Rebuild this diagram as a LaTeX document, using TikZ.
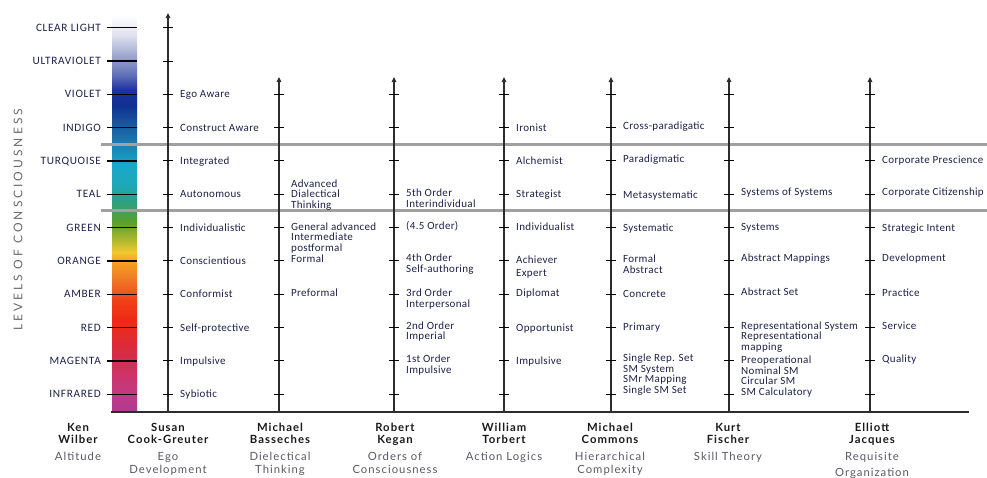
\documentclass[tikz,border=0pt]{standalone}
\usepackage{fontspec}
\usetikzlibrary{arrows.meta}
\setmainfont{Carlito}
\newfontfamily\lblfont[LetterSpace=3]{Carlito}
\newfontfamily\lvlfont[LetterSpace=6]{Carlito}
\newfontfamily\hdrfont[LetterSpace=9]{Lato}
\newfontfamily\subfont[LetterSpace=9]{Lato}
\newfontfamily\vertfont[LetterSpace=25]{Lato}
\definecolor{navy}{RGB}{30,32,72}
\definecolor{subgray}{RGB}{90,88,98}
\definecolor{sepgray}{RGB}{160,160,160}
\definecolor{axisgray}{RGB}{45,45,45}
\definecolor{vgray}{RGB}{105,105,112}
\definecolor{c0}{HTML}{B03C96}
\definecolor{c1}{HTML}{C83878}
\definecolor{c2}{HTML}{D42C48}
\definecolor{c3}{HTML}{EE2A14}
\definecolor{c4}{HTML}{F04018}
\definecolor{c5}{HTML}{F07828}
\definecolor{c6}{HTML}{F5A020}
\definecolor{c7}{HTML}{F0C830}
\definecolor{c8}{HTML}{B0B830}
\definecolor{c9}{HTML}{5AA028}
\definecolor{c10}{HTML}{40A060}
\definecolor{c11}{HTML}{2AA088}
\definecolor{c12}{HTML}{20A8B8}
\definecolor{c13}{HTML}{18A8C8}
\definecolor{c14}{HTML}{1C80B0}
\definecolor{c15}{HTML}{1A58A0}
\definecolor{c16}{HTML}{103090}
\definecolor{c17}{HTML}{2030A0}
\definecolor{c18}{HTML}{6070B8}
\definecolor{c19}{HTML}{A0A8D0}
\definecolor{c20}{HTML}{E0E2F0}
\definecolor{c21}{HTML}{FFFFFF}
\pgfdeclareverticalshading{spectrum}{100bp}{color(0bp)=(c0); color(25bp)=(c0); color(28.40bp)=(c1); color(32.18bp)=(c2); color(36.59bp)=(c3); color(39.11bp)=(c4); color(41.62bp)=(c5); color(43.89bp)=(c6); color(45.15bp)=(c7); color(46.66bp)=(c8); color(48.93bp)=(c9); color(50.44bp)=(c10); color(51.70bp)=(c11); color(53.59bp)=(c12); color(56.11bp)=(c13); color(58.63bp)=(c14); color(61.15bp)=(c15); color(63.66bp)=(c16); color(65.55bp)=(c17); color(67.44bp)=(c18); color(69.96bp)=(c19); color(72.48bp)=(c20); color(75bp)=(c21); color(100bp)=(c21)}
\newcommand\LY[1]{394.3-33.33*(#1)}
% baseline of the text on level #1
\newcommand\TY[1]{397.9-33.33*(#1)}
% baseline of the LAST line of a label of #1 extra lines whose FIRST line sits on level #2
\newcommand\TYn[2]{397.9-33.33*(#2)+10.7*(#1)}
\begin{document}
\begin{tikzpicture}[x=1pt,y=-1pt,
  lab/.style={anchor=base west,inner sep=0pt,align=left,text=navy,
    font=\lblfont\fontsize{11}{10.7}\selectfont},
  lvl/.style={anchor=base east,inner sep=0pt,text=navy,
    font=\lvlfont\fontsize{11.3}{11}\selectfont},
  who/.style={anchor=base,inner sep=0pt,align=center,text=black!90,
    font=\hdrfont\bfseries\fontsize{11.3}{12.5}\selectfont},
  what/.style={anchor=base,inner sep=0pt,align=center,text=subgray,
    font=\subfont\fontsize{11.3}{13}\selectfont},
  axisline/.style={draw=axisgray,line width=1.2pt,-{Triangle[length=5pt,width=4.5pt]}},
  tickmark/.style={draw=black,line width=1pt},
  sepline/.style={draw=sepgray,line width=2.2pt},
  baseline/.style={draw=axisgray,line width=1.2pt}]
\useasboundingbox (0,0) rectangle (987,477);

% colour bar
\shade[shading=spectrum] (112,15) rectangle (137,412);

% separator lines
\coordinate (sepAl) at (101,144.5);
\coordinate (sepAr) at (987,144.5);
\coordinate (sepBl) at (101,210.5);
\coordinate (sepBr) at (987,210.5);
\draw[sepline] (sepAl) -- (sepAr);
\draw[sepline] (sepBl) -- (sepBr);

% level ticks on the bar
\foreach \k in {0,...,11}{
  \draw[tickmark,line width=1.2pt] (107,{\LY{\k}}) -- (137,{\LY{\k}});
}

% level labels
\node[lvl] (lv11) at (101,{\TY{11}}) {CLEAR LIGHT};
\node[lvl] (lv10) at (101,{\TY{10}}) {ULTRAVIOLET};
\node[lvl] (lv9) at (101,{\TY{9}}) {VIOLET};
\node[lvl] (lv8) at (101,{\TY{8}}) {INDIGO};
\node[lvl] (lv7) at (101,{\TY{7}}) {TURQUOISE};
\node[lvl] (lv6) at (101,{\TY{6}}) {TEAL};
\node[lvl] (lv5) at (101,{\TY{5}}) {GREEN};
\node[lvl] (lv4) at (101,{\TY{4}}) {ORANGE};
\node[lvl] (lv3) at (101,{\TY{3}}) {AMBER};
\node[lvl] (lv2) at (101,{\TY{2}}) {RED};
\node[lvl] (lv1) at (101,{\TY{1}}) {MAGENTA};
\node[lvl] (lv0) at (101,{\TY{0}}) {INFRARED};

\node[rotate=90,inner sep=0pt,text=vgray,font=\vertfont\fontsize{12}{12}\selectfont]
  (levels) at (18,220) {LEVELS OF CONSCIOUSNESS};

% bottom line
\coordinate (bl) at (111,412);
\coordinate (br) at (969,412);
\draw[baseline] (bl) -- (br);

% axes
\coordinate (cgB) at (168,412); \coordinate (cgT) at (168,13);
\draw[axisline] (cgB) -- (cgT);
\foreach \k in {0,...,11}{\draw[tickmark] (163,{\LY{\k}}) -- (173,{\LY{\k}});}
\foreach \nm/\x in {mb/279,rk/394,wt/504,mc/611,kf/729,ej/870}{
  \coordinate (\nm B) at (\x,412); \coordinate (\nm T) at (\x,77);
  \draw[axisline] (\nm B) -- (\nm T);
  \foreach \k in {0,...,9}{\draw[tickmark] (\x-5,{\LY{\k}}) -- (\x+5,{\LY{\k}});}
}

% Cook-Greuter
\node[lab] (cg9) at (180,{\TY{9}}) {Ego Aware};
\node[lab] (cg8) at (180,{\TY{8}}) {Construct Aware};
\node[lab] (cg7) at (180,{\TY{7}}) {Integrated};
\node[lab] (cg6) at (180,{\TY{6}}) {Autonomous};
\node[lab] (cg5) at (180,{\TY{5}}) {Individualistic};
\node[lab] (cg4) at (180,{\TY{4}}) {Conscientious};
\node[lab] (cg3) at (180,{\TY{3}}) {Conformist};
\node[lab] (cg2) at (180,{\TY{2}}) {Self-protective};
\node[lab] (cg1) at (180,{\TY{1}}) {Impulsive};
\node[lab] (cg0) at (180,{\TY{0}}) {Sybiotic};

% Basseches
\node[lab] (mb6) at (291,{\TYn{2}{6}-10.7}) {Advanced\\Dialectical\\Thinking};
\node[lab] (mb5) at (291,{\TYn{3}{5}-1}) {General advanced\\Intermediate\\postformal\\Formal};
\node[lab] (mb3) at (291,{\TY{3}-1}) {Preformal};

% Kegan
\node[lab] (rk6) at (406,{\TYn{1}{6}-1}) {5th Order\\Interindividual};
\node[lab] (rk5) at (406,{\TY{5}-2}) {(4.5 Order)};
\node[lab] (rk4) at (406,{\TYn{1}{4}-3}) {4th Order\\Self-authoring};
\node[lab] (rk3) at (406,{\TYn{1}{3}-1}) {3rd Order\\Interpersonal};
\node[lab] (rk2) at (406,{\TYn{1}{2}-2}) {2nd Order\\Imperial};
\node[lab] (rk1) at (406,{\TYn{1}{1}-2}) {1st Order\\Impulsive};

% Torbert
\node[lab] (wt8) at (516,{\TY{8}}) {Ironist};
\node[lab] (wt7) at (516,{\TY{7}}) {Alchemist};
\node[lab] (wt6) at (516,{\TY{6}}) {Strategist};
\node[lab] (wt5) at (516,{\TY{5}-1}) {Individualist};
\node[lab,font=\lblfont\fontsize{11}{12.8}\selectfont] (wt4) at (516,{\TY{4}+12.8-1}) {Achiever\\Expert};
\node[lab] (wt3) at (516,{\TY{3}-1}) {Diplomat};
\node[lab] (wt2) at (516,{\TY{2}}) {Opportunist};
\node[lab] (wt1) at (516,{\TY{1}}) {Impulsive};

% Commons
\node[lab] (mc8) at (623,{\TY{8}-2}) {Cross-paradigatic};
\node[lab] (mc7) at (623,{\TY{7}-2}) {Paradigmatic};
\node[lab] (mc6) at (623,{\TY{6}+1}) {Metasystematic};
\node[lab] (mc5) at (623,{\TY{5}}) {Systematic};
\node[lab] (mc4) at (623,{\TYn{1}{4}-2}) {Formal\\Abstract};
\node[lab] (mc3) at (623,{\TY{3}}) {Concrete};
\node[lab] (mc2) at (623,{\TY{2}-1}) {Primary};
\node[lab] (mc1) at (623,{\TYn{3}{1}-3}) {Single Rep. Set\\SM System\\SMr Mapping\\Single SM Set};

% Fischer
\node[lab] (kf6) at (741,{\TY{6}-2}) {Systems of Systems};
\node[lab] (kf5) at (741,{\TY{5}-1}) {Systems};
\node[lab] (kf4) at (741,{\TY{4}-3}) {Abstract Mappings};
\node[lab] (kf3) at (741,{\TY{3}-2}) {Abstract Set};
\node[lab] (kf2) at (741,{\TYn{2}{2}-2}) {Representational System\\Representational\\mapping};
\node[lab] (kf1) at (741,{\TYn{3}{1}-1}) {Preoperational\\Nominal SM\\Circular SM\\SM Calculatory};

% Jaques
\node[lab] (ej7) at (882,{\TY{7}-1}) {Corporate Prescience};
\node[lab] (ej6) at (882,{\TY{6}-2}) {Corporate Citizenship};
\node[lab] (ej5) at (882,{\TY{5}}) {Strategic Intent};
\node[lab] (ej4) at (882,{\TY{4}-3}) {Development};
\node[lab] (ej3) at (882,{\TY{3}-1}) {Practice};
\node[lab] (ej2) at (882,{\TY{2}-2}) {Service};
\node[lab] (ej1) at (882,{\TY{1}-2}) {Quality};

% headers (anchor base = baseline of last line)
\node[who] (hKW) at (78,443.5) {Ken\\Wilber};
\node[what] (sKW) at (78,460) {Altitude};
\node[who] (hCG) at (168,443.5) {Susan\\Cook-Greuter};
\node[what] (sCG) at (168,473) {Ego\\Development};
\node[who] (hMB) at (280,443.5) {Michael\\Basseches};
\node[what] (sMB) at (280,473) {Dielectical\\Thinking};
\node[who] (hRK) at (395,443.5) {Robert\\Kegan};
\node[what] (sRK) at (395,473) {Orders of\\Consciousness};
\node[who] (hWT) at (504,443.5) {William\\Torbert};
\node[what] (sWT) at (504,460) {Action Logics};
\node[who] (hMC) at (610,443.5) {Michael\\Commons};
\node[what] (sMC) at (610,473) {Hierarchical\\Complexity};
\node[who] (hKF) at (728,443.5) {Kurt\\Fischer};
\node[what] (sKF) at (728,460) {Skill Theory};
\node[who] (hEJ) at (872,443.5) {Elliott\\Jacques};
\node[what,font=\subfont\fontsize{11.3}{16}\selectfont] (sEJ) at (872,476) {Requisite\\Organization};
\end{tikzpicture}
\end{document}
